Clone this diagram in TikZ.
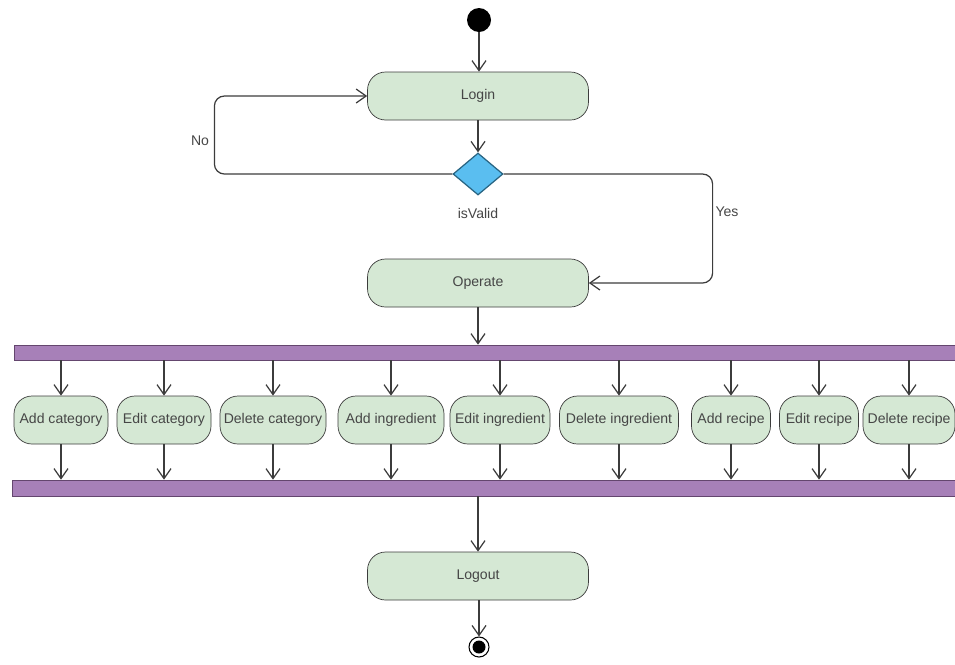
\documentclass[tikz,border=0pt]{standalone}
\usepackage{fontspec}
\setmainfont{Liberation Sans}
\usetikzlibrary{shapes.geometric,arrows.meta}
\definecolor{actfill}{RGB}{213,232,212}
\definecolor{linegray}{RGB}{60,60,60}
\definecolor{textgray}{RGB}{70,70,70}
\definecolor{barfill}{RGB}{167,128,184}
\definecolor{bardraw}{RGB}{100,70,110}
\definecolor{decfill}{RGB}{90,190,240}
\definecolor{decdraw}{RGB}{40,100,130}

\begin{document}
\begin{tikzpicture}[x=0.02cm,y=-0.02cm,
  act/.style={draw=linegray,fill=actfill,rounded corners=0.36cm,minimum height=0.96cm,text=textgray,font=\fontsize{8}{9}\selectfont,inner sep=1pt},
  flow/.style={draw=linegray,line width=0.7pt,-{Straight Barb[length=2mm,width=2.8mm]}},
  bar/.style={draw=bardraw,fill=barfill,inner sep=0}]
\useasboundingbox (0,0) rectangle (955,664);

\node[circle,fill=black,minimum size=0.48cm,inner sep=0] (start) at (479,20) {};
\node[act,minimum width=4.42cm] (login) at (478,96) {Login};
\node[diamond,draw=decdraw,fill=decfill,line width=0.7pt,minimum width=1cm,minimum height=0.84cm,inner sep=0,
  label={[label distance=0.12cm,text=textgray,font=\fontsize{8}{9}\selectfont]below:isValid}] (valid) at (478,174) {};
\node[act,minimum width=4.42cm] (operate) at (478,283) {Operate};

\draw[flow] (start) -- (start |- login.north);
\draw[flow] (login) -- (valid);
\draw[flow,rounded corners=0.2cm] (valid.west) -- ++(-238,0) |- (login.west);
\draw[flow,rounded corners=0.2cm] (valid.east) -- ++(209,0) |- (operate.east);
\node[text=textgray,font=\fontsize{8}{9}\selectfont] at (200,141) {No};
\node[text=textgray,font=\fontsize{8}{9}\selectfont] at (727,212) {Yes};

% fork and join
\node[bar,minimum width=18.82cm,minimum height=0.3cm] (fork) at (484.5,352.5) {};
\node[bar,minimum width=18.86cm,minimum height=0.32cm] (join) at (483.5,488) {};
\draw[flow] (operate) -- (operate |- fork.north);

\foreach \i/\cx/\w/\txt in {1/61/94/Add category,2/164/94/Edit category,3/273/106/Delete category,
  4/391/106/Add ingredient,5/500/100/Edit ingredient,6/619/119/Delete ingredient,
  7/731/79/Add recipe,8/819/79/Edit recipe,9/909/92/Delete recipe}
{
  \node[act,minimum width=\w*0.02cm] (a\i) at (\cx,420) {\txt};
  \draw[flow] (a\i |- fork.south) -- (a\i.north);
  \draw[flow] (a\i.south) -- (a\i |- join.north);
}

\node[act,minimum width=4.42cm] (logout) at (478,576) {Logout};
\draw[flow] (logout |- join.south) -- (logout);
\node[circle,draw=black,fill=white,line width=0.6pt,minimum size=0.4cm,inner sep=0] (end) at (479,647) {};
\fill[black] (end.center) circle (0.13cm);
\draw[flow] (logout.south -| end) -- (end);
\end{tikzpicture}
\end{document}
